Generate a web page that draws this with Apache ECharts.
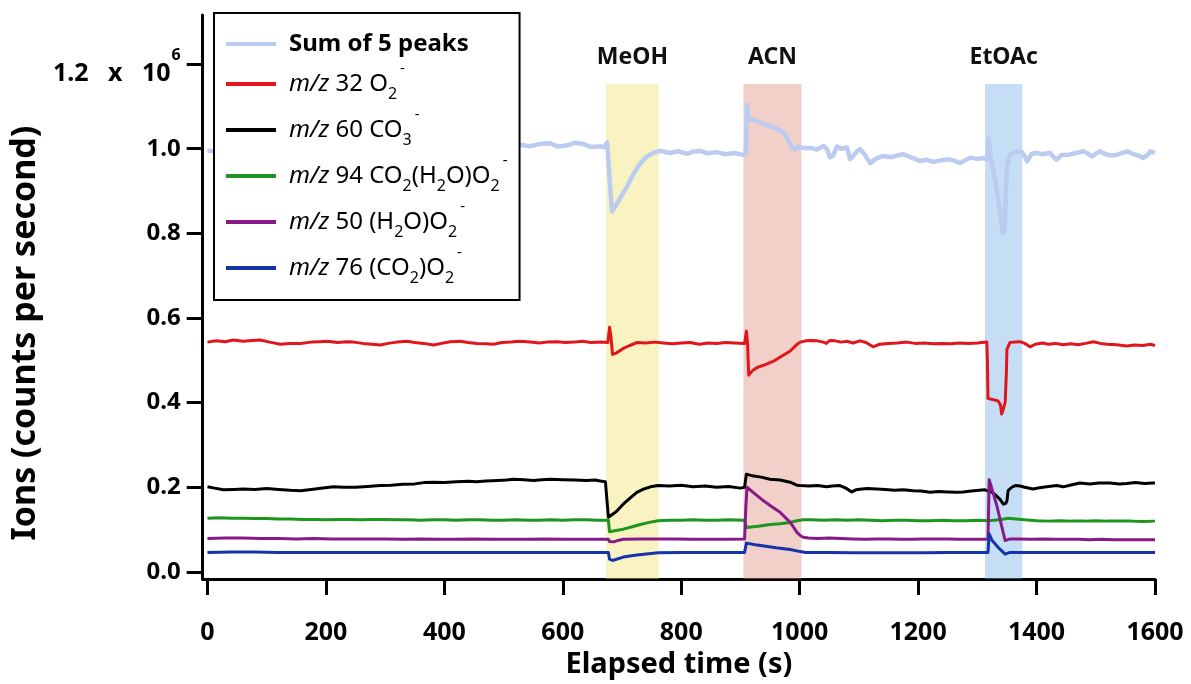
<!DOCTYPE html>
<html>
<head>
<meta charset="utf-8">
<script src="https://cdn.jsdelivr.net/npm/echarts@6/dist/echarts.min.js"></script>
<style>html,body{margin:0;padding:0;background:#fff}#c{width:1191px;height:684px}</style>
</head>
<body>
<div id="c"></div>
<script>
// ---- data (values in units of 10^6 counts per second) ----
const xTicks = [0, 200, 400, 600, 800, 1000, 1200, 1400, 1600];
const yTicks = [0, 0.2, 0.4, 0.6, 0.8, 1.0, 1.2];
const eventNames = ['MeOH', 'ACN', 'EtOAc'];
const eventStart = [673, 905, 1313];
const eventEnd = [762, 1003, 1376];
const seriesNames = ['Sum of 5 peaks', 'm/z 32 O2-', 'm/z 60 CO3-', 'm/z 94 CO2(H2O)O2-', 'm/z 50 (H2O)O2-', 'm/z 76 (CO2)O2-'];

const sumPeaks = [[0,0.996],[20,0.992],[40,0.998],[60,0.994],[80,1.000],[100,0.995],[120,0.990],[140,0.996],[160,0.993],[180,0.998],[200,1.001],[220,0.997],[240,1.003],[260,0.999],[280,1.004],[300,1.000],[320,1.006],[340,1.002],[360,1.007],[380,1.003],[400,1.008],[420,1.004],[440,1.009],[460,1.005],[480,1.010],[500,1.006],[520,1.011],[545,1.006],[560,1.011],[579,1.013],[592,1.005],[607,1.008],[620,1.014],[635,1.011],[648,1.004],[663,1.006],[670,1.003],[675,1.015],[678,0.950],[683,0.852],[690,0.866],[697,0.884],[708,0.910],[720,0.942],[730,0.964],[742,0.982],[752,0.990],[765,0.995],[780,0.990],[795,0.994],[810,0.988],[820,0.993],[832,0.995],[845,0.989],[860,0.992],[875,0.987],[890,0.990],[905,0.985],[909,0.988],[911,1.104],[914,1.068],[920,1.070],[928,1.065],[936,1.060],[945,1.056],[953,1.051],[962,1.047],[968,1.042],[975,1.036],[980,1.022],[986,1.003],[992,0.998],[997,1.005],[1003,1.003],[1012,1.001],[1020,1.002],[1029,0.998],[1035,1.002],[1040,1.007],[1046,1.000],[1051,0.980],[1056,0.983],[1063,1.005],[1070,1.000],[1080,1.003],[1085,0.975],[1092,0.986],[1097,0.994],[1102,0.999],[1110,0.986],[1119,0.966],[1128,0.976],[1141,0.983],[1155,0.980],[1165,0.984],[1175,0.987],[1185,0.981],[1195,0.976],[1203,0.971],[1214,0.974],[1226,0.969],[1240,0.973],[1254,0.975],[1262,0.971],[1271,0.966],[1280,0.973],[1288,0.979],[1300,0.976],[1310,0.978],[1316,0.975],[1319,1.025],[1323,0.975],[1330,0.927],[1334,0.890],[1338,0.856],[1343,0.800],[1346,0.810],[1348,0.890],[1350,0.958],[1355,0.986],[1360,0.990],[1367,0.994],[1375,0.992],[1380,0.982],[1384,0.970],[1392,0.988],[1400,0.990],[1410,0.987],[1423,0.990],[1429,0.980],[1434,0.974],[1442,0.985],[1455,0.986],[1467,0.990],[1479,0.994],[1487,0.988],[1494,0.982],[1500,0.988],[1507,0.994],[1515,0.988],[1525,0.984],[1536,0.986],[1545,0.990],[1553,0.994],[1562,0.988],[1572,0.984],[1580,0.978],[1587,0.985],[1592,0.994],[1600,0.990]];

const mz32 = [[0,0.543],[15,0.546],[30,0.544],[44,0.548],[60,0.545],[75,0.547],[89,0.548],[105,0.543],[123,0.538],[140,0.540],[157,0.540],[175,0.543],[190,0.544],[202,0.545],[220,0.542],[235,0.544],[247,0.543],[262,0.540],[278,0.538],[292,0.536],[305,0.540],[320,0.543],[337,0.545],[350,0.542],[365,0.540],[382,0.536],[395,0.540],[410,0.544],[427,0.545],[440,0.542],[455,0.540],[470,0.539],[483,0.538],[497,0.542],[512,0.543],[528,0.545],[545,0.543],[560,0.541],[573,0.543],[590,0.544],[605,0.542],[618,0.543],[633,0.545],[648,0.542],[663,0.543],[676,0.542],[679,0.578],[681,0.560],[684,0.514],[690,0.517],[702,0.528],[713,0.535],[725,0.542],[740,0.541],[755,0.543],[770,0.541],[785,0.539],[800,0.541],[815,0.542],[830,0.538],[845,0.541],[860,0.540],[875,0.542],[890,0.541],[907,0.540],[910,0.569],[912,0.540],[914,0.465],[920,0.475],[928,0.483],[942,0.490],[956,0.498],[970,0.510],[984,0.522],[994,0.536],[1001,0.543],[1010,0.546],[1020,0.547],[1030,0.546],[1040,0.543],[1045,0.540],[1051,0.547],[1060,0.546],[1070,0.543],[1080,0.545],[1090,0.541],[1102,0.546],[1112,0.542],[1124,0.532],[1135,0.538],[1150,0.540],[1165,0.541],[1181,0.543],[1195,0.540],[1210,0.541],[1226,0.539],[1240,0.540],[1255,0.539],[1270,0.541],[1285,0.540],[1300,0.541],[1316,0.543],[1317,0.500],[1318,0.410],[1327,0.407],[1335,0.404],[1339,0.395],[1341,0.373],[1344,0.385],[1347,0.401],[1349,0.470],[1350,0.526],[1355,0.542],[1362,0.543],[1372,0.544],[1380,0.540],[1389,0.532],[1398,0.538],[1410,0.541],[1420,0.538],[1432,0.540],[1445,0.537],[1458,0.539],[1470,0.537],[1483,0.540],[1496,0.544],[1508,0.540],[1520,0.538],[1535,0.537],[1552,0.534],[1565,0.536],[1580,0.535],[1592,0.538],[1600,0.535]];

const mz60 = [[0,0.201],[12,0.198],[27,0.194],[45,0.195],[60,0.196],[80,0.195],[100,0.197],[120,0.195],[140,0.193],[157,0.192],[175,0.195],[195,0.198],[213,0.201],[230,0.200],[250,0.200],[270,0.202],[292,0.204],[310,0.205],[330,0.207],[350,0.208],[365,0.211],[382,0.212],[400,0.211],[420,0.213],[440,0.214],[455,0.213],[470,0.215],[490,0.216],[505,0.217],[517,0.219],[535,0.218],[550,0.216],[565,0.218],[580,0.219],[600,0.218],[620,0.217],[640,0.216],[655,0.217],[663,0.215],[672,0.213],[675,0.214],[677,0.129],[690,0.142],[702,0.160],[714,0.175],[725,0.188],[737,0.196],[748,0.201],[761,0.204],[780,0.203],[800,0.205],[820,0.201],[840,0.203],[860,0.200],[880,0.202],[900,0.198],[907,0.200],[910,0.231],[920,0.227],[935,0.224],[950,0.219],[967,0.217],[984,0.212],[995,0.205],[1001,0.204],[1015,0.203],[1030,0.204],[1045,0.201],[1055,0.203],[1068,0.204],[1078,0.198],[1088,0.189],[1095,0.194],[1105,0.196],[1114,0.197],[1130,0.196],[1145,0.195],[1160,0.193],[1175,0.194],[1192,0.192],[1205,0.191],[1220,0.188],[1235,0.190],[1250,0.189],[1265,0.188],[1276,0.189],[1290,0.191],[1303,0.193],[1313,0.194],[1325,0.188],[1332,0.180],[1338,0.172],[1344,0.160],[1348,0.162],[1350,0.168],[1352,0.192],[1358,0.200],[1364,0.204],[1372,0.203],[1380,0.200],[1394,0.196],[1405,0.199],[1420,0.202],[1434,0.204],[1445,0.201],[1460,0.206],[1473,0.210],[1490,0.208],[1505,0.210],[1524,0.210],[1540,0.208],[1552,0.209],[1567,0.211],[1582,0.209],[1597,0.210],[1600,0.210]];

const mz94 = [[0,0.127],[20,0.128],[40,0.127],[60,0.127],[80,0.126],[100,0.126],[120,0.125],[140,0.125],[160,0.124],[180,0.124],[200,0.123],[220,0.124],[240,0.124],[260,0.123],[280,0.124],[300,0.124],[320,0.123],[340,0.123],[360,0.122],[380,0.123],[400,0.123],[420,0.122],[440,0.123],[460,0.123],[480,0.122],[500,0.122],[520,0.123],[540,0.122],[560,0.122],[580,0.123],[600,0.122],[620,0.123],[640,0.123],[660,0.122],[677,0.122],[679,0.095],[690,0.098],[702,0.101],[716,0.106],[731,0.112],[746,0.117],[761,0.121],[780,0.122],[800,0.122],[820,0.123],[840,0.122],[860,0.122],[880,0.123],[907,0.122],[910,0.105],[930,0.108],[950,0.112],[967,0.114],[984,0.117],[995,0.121],[1006,0.123],[1020,0.123],[1040,0.122],[1060,0.123],[1080,0.122],[1100,0.123],[1120,0.122],[1140,0.121],[1160,0.122],[1180,0.122],[1200,0.121],[1220,0.121],[1240,0.122],[1260,0.121],[1280,0.121],[1300,0.122],[1320,0.121],[1340,0.124],[1352,0.127],[1365,0.125],[1380,0.123],[1400,0.121],[1420,0.120],[1440,0.121],[1460,0.120],[1480,0.120],[1500,0.121],[1520,0.120],[1540,0.120],[1560,0.120],[1580,0.119],[1600,0.120]];

const mz50 = [[0,0.079],[30,0.080],[60,0.080],[90,0.079],[120,0.079],[150,0.078],[180,0.079],[210,0.078],[240,0.078],[270,0.078],[300,0.078],[330,0.077],[360,0.078],[390,0.077],[420,0.077],[450,0.078],[480,0.077],[510,0.077],[540,0.077],[570,0.078],[600,0.077],[630,0.077],[660,0.077],[677,0.077],[679,0.072],[686,0.071],[695,0.075],[702,0.077],[730,0.078],[760,0.078],[790,0.078],[820,0.077],[850,0.077],[880,0.077],[907,0.078],[909,0.150],[911,0.200],[925,0.184],[939,0.168],[953,0.154],[967,0.141],[984,0.117],[990,0.105],[995,0.094],[1001,0.086],[1006,0.082],[1015,0.080],[1030,0.079],[1050,0.080],[1070,0.079],[1090,0.078],[1110,0.077],[1130,0.078],[1150,0.078],[1170,0.077],[1190,0.077],[1210,0.078],[1230,0.078],[1250,0.078],[1270,0.077],[1290,0.077],[1310,0.077],[1318,0.078],[1320,0.218],[1327,0.185],[1333,0.156],[1341,0.109],[1347,0.074],[1355,0.078],[1370,0.078],[1390,0.077],[1410,0.078],[1430,0.077],[1450,0.077],[1470,0.077],[1490,0.076],[1510,0.077],[1530,0.076],[1550,0.076],[1570,0.076],[1600,0.076]];

const mz76 = [[0,0.046],[40,0.047],[80,0.047],[120,0.046],[160,0.046],[200,0.046],[240,0.046],[280,0.046],[320,0.046],[360,0.046],[400,0.046],[440,0.046],[480,0.046],[520,0.046],[560,0.046],[600,0.046],[640,0.046],[677,0.046],[679,0.030],[684,0.027],[702,0.035],[725,0.040],[745,0.043],[761,0.045],[800,0.046],[840,0.046],[880,0.046],[907,0.046],[910,0.068],[925,0.064],[940,0.061],[960,0.057],[984,0.053],[1001,0.048],[1010,0.046],[1050,0.046],[1090,0.045],[1130,0.045],[1170,0.045],[1210,0.045],[1250,0.046],[1290,0.046],[1318,0.046],[1320,0.090],[1325,0.074],[1335,0.058],[1347,0.042],[1355,0.046],[1400,0.046],[1450,0.046],[1500,0.046],[1550,0.046],[1600,0.046]];

// ---- styles ----
const FONT = '"Noto Sans", "DejaVu Sans", sans-serif';
const lineColors = ['#bccbf0', '#e0161c', '#000000', '#1e961e', '#871a87', '#1534aa'];
const lineWidths = [4.5, 3, 3, 3, 3, 3];
const shadeColors = ['rgba(240,227,107,0.42)', 'rgba(217,137,117,0.40)', 'rgba(110,172,232,0.40)'];
const seriesData = [sumPeaks, mz32, mz60, mz94, mz50, mz76];

const legendRich = {
  'Sum of 5 peaks': '{bb|Sum of 5 peaks}',
  'm/z 32 O2-': '{i|m/z}{b| 32 O}{sub|2}{sup|-}',
  'm/z 60 CO3-': '{i|m/z}{b| 60 CO}{sub|3}{sup|-}',
  'm/z 94 CO2(H2O)O2-': '{i|m/z}{b| 94 CO}{sub|2}{b|(H}{sub|2}{b|O)O}{sub|2}{sup|-}',
  'm/z 50 (H2O)O2-': '{i|m/z}{b| 50 (H}{sub|2}{b|O)O}{sub|2}{sup|-}',
  'm/z 76 (CO2)O2-': '{i|m/z}{b| 76 (CO}{sub|2}{b|)O}{sub|2}{sup|-}'
};

const chart = echarts.init(document.getElementById('c'), null, {renderer: 'canvas'});

const series = seriesNames.map((n, i) => ({
  name: n,
  type: 'line',
  data: seriesData[i],
  showSymbol: false,
  symbol: 'none',
  color: lineColors[i],
  lineStyle: {color: lineColors[i], width: lineWidths[i], join: 'round'},
  emphasis: {disabled: true},
  z: 2,
  silent: true
}));

series.push({
  name: 'shade',
  type: 'line',
  data: [],
  z: 5,
  silent: true,
  markArea: {
    silent: true,
    data: eventNames.map((n, i) => [
      {name: n, xAxis: eventStart[i], yAxis: -0.017,
       itemStyle: {color: shadeColors[i]},
       label: {show: true, position: 'top', distance: 15, color: '#111', fontSize: 23, fontWeight: 'bold', fontFamily: FONT}},
      {xAxis: eventEnd[i], yAxis: 1.153}
    ])
  }
});

const LH = 46;
chart.setOption({
  animation: false,
  backgroundColor: '#fff',
  grid: {left: 202, right: 36, top: 15, bottom: 104, containLabel: false},
  legend: {
    data: seriesNames,
    orient: 'vertical',
    left: 214, top: 13,
    z: 20,
    selectedMode: false,
    backgroundColor: '#fff',
    borderColor: '#000',
    borderWidth: 2,
    padding: [19, 12, 14, 12],
    itemGap: 5,
    itemWidth: 50,
    itemHeight: 4,
    icon: 'rect',
    formatter: n => legendRich[n],
    textStyle: {
      padding: [0, 0, 0, 8],
      fontFamily: FONT,
      color: '#000',
      rich: {
        bb: {fontSize: 24, fontWeight: 'bold', lineHeight: LH, fontFamily: FONT, color: '#000'},
        b: {fontSize: 24, fontWeight: 'normal', lineHeight: LH, fontFamily: FONT, color: '#000'},
        i: {fontSize: 24, fontStyle: 'italic', fontWeight: 'normal', lineHeight: LH, fontFamily: FONT, color: '#000'},
        sub: {fontSize: 16, lineHeight: LH, verticalAlign: 'top', padding: [25, 0, 0, 0], fontFamily: FONT, color: '#000'},
        sup: {fontSize: 15, lineHeight: LH, verticalAlign: 'top', padding: [0, 0, 0, 3], fontFamily: FONT, color: '#000'}
      }
    }
  },
  xAxis: {
    type: 'value',
    min: -8, max: 1600,
    name: 'Elapsed time (s)',
    nameLocation: 'middle',
    nameGap: 68,
    nameTextStyle: {fontSize: 29, fontWeight: 'bold', color: '#000', fontFamily: FONT},
    axisLine: {show: true, onZero: false, lineStyle: {color: '#000', width: 3}},
    axisTick: {show: true, length: 16, lineStyle: {color: '#000', width: 3}, customValues: xTicks},
    axisLabel: {color: '#000', fontSize: 25, fontWeight: 'bold', fontFamily: FONT, margin: 41, customValues: xTicks,
      formatter: v => String(v)},
    splitLine: {show: false}
  },
  yAxis: {
    type: 'value',
    min: -0.017, max: 1.316,
    name: 'Ions (counts per second)',
    nameLocation: 'middle',
    nameRotate: 90,
    nameGap: 152,
    nameTextStyle: {fontSize: 34, fontWeight: 'bold', color: '#000', fontFamily: FONT, padding: [0, 72, 0, 0]},
    axisLine: {show: true, onZero: false, lineStyle: {color: '#000', width: 3}},
    axisTick: {show: true, length: 16, lineStyle: {color: '#000', width: 3}, customValues: yTicks},
    axisLabel: {
      color: '#000', fontSize: 24, fontWeight: 'bold', fontFamily: FONT, margin: 22,
      customValues: yTicks,
      formatter: v => Math.abs(v - 1.2) < 1e-6 ? '{a|1.2   x   10}{s|6}' : v.toFixed(1),
      rich: {
        a: {fontSize: 25, fontWeight: 'bold', fontFamily: FONT, color: '#000', padding: [20, 0, 0, 0], verticalAlign: 'top'},
        s: {fontSize: 16, fontWeight: 'bold', fontFamily: FONT, color: '#000', padding: [6, 0, 0, 1], verticalAlign: 'top'}
      }
    },
    splitLine: {show: false}
  },
  series: series
});
</script>
</body>
</html>
